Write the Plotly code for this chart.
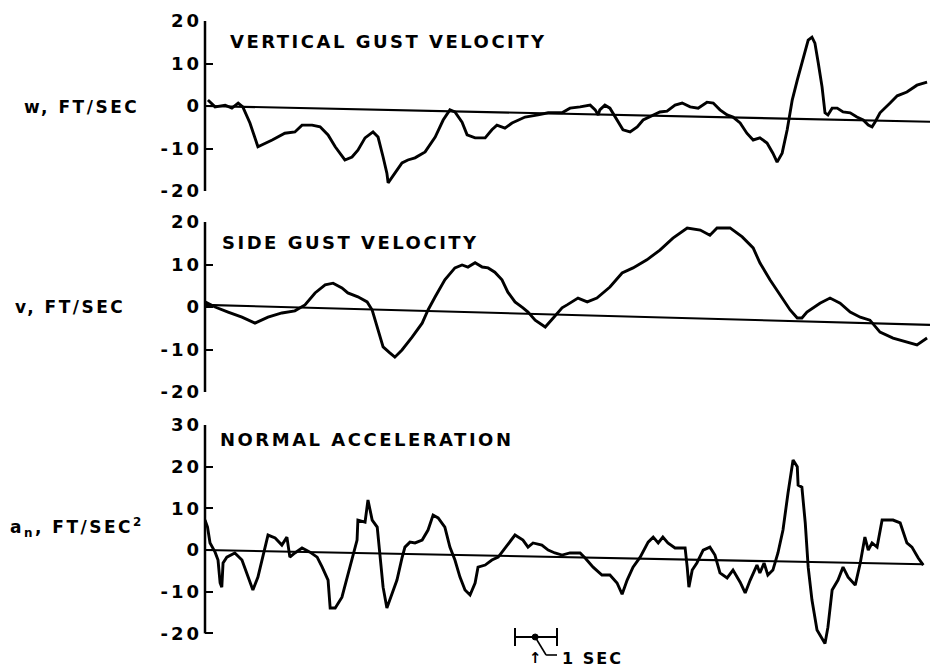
import plotly.graph_objects as go

# ---------------- data (time in seconds, values in panel units) ----------------
T_W = [0.07,0.24,0.48,0.64,0.79,0.90,1.07,1.26,1.60,1.90,2.14,2.31,2.55,2.74,2.93,3.10,3.33,3.50,3.64,3.81,
       4.00,4.12,4.24,4.33,4.36,4.52,4.69,4.83,5.00,5.24,5.48,5.67,5.83,5.95,6.12,6.24,6.43,6.67,6.83,6.95,
       7.14,7.31,7.62,7.93,8.17,8.50,8.69,8.93,9.17,9.29,9.36,9.40,9.52,9.64,9.81,9.95,10.12,10.29,10.43,10.67,
       10.83,11.00,11.19,11.36,11.55,11.74,11.95,12.10,12.26,12.43,12.57,12.74,12.90,13.05,13.21,13.38,13.52,13.62,13.74,13.86,
       13.98,14.10,14.24,14.36,14.45,14.52,14.60,14.69,14.76,14.83,14.93,15.05,15.19,15.36,15.52,15.67,15.79,15.88,15.95,16.07,
       16.31,16.48,16.71,16.95,17.19]
W_GUST = [1.4,-0.2,0.2,-0.5,0.7,-0.2,-4.0,-9.6,-8.0,-6.4,-6.1,-4.5,-4.5,-4.9,-6.8,-9.6,-12.7,-12.0,-10.4,-7.5,
          -6.1,-7.3,-12.0,-15.8,-18.1,-15.8,-13.4,-12.7,-12.2,-10.8,-7.3,-3.3,-0.9,-1.4,-3.8,-6.8,-7.5,-7.5,-5.6,-4.5,
          -5.2,-4.0,-2.6,-2.1,-1.6,-1.6,-0.5,-0.2,0.2,-0.9,-2.1,-0.9,0.2,-0.5,-3.3,-5.6,-6.1,-4.9,-3.3,-2.1,
          -1.4,-1.2,0.2,0.7,-0.2,-0.5,0.9,0.7,-0.9,-2.1,-2.6,-4.0,-6.4,-8.0,-7.5,-8.7,-11.1,-13.2,-11.1,-5.6,
          1.4,6.1,11.5,15.5,16.2,14.8,10.1,4.5,-1.6,-2.1,-0.5,-0.5,-1.4,-1.6,-2.6,-3.3,-4.5,-4.9,-3.8,-1.6,
          0.7,2.4,3.3,4.9,5.6]

T_V = [0.0,0.24,0.55,0.88,1.19,1.50,1.83,2.14,2.38,2.62,2.86,3.05,3.26,3.40,3.64,3.86,3.98,4.10,4.24,4.40,
       4.52,4.69,4.93,5.17,5.31,5.48,5.71,5.95,6.12,6.26,6.43,6.60,6.74,6.90,7.07,7.21,7.38,7.57,7.69,7.86,
       8.10,8.29,8.50,8.62,8.88,9.10,9.33,9.64,9.93,10.19,10.52,10.83,11.14,11.48,11.79,12.02,12.19,12.50,12.79,13.05,
       13.21,13.45,13.69,13.93,14.10,14.21,14.33,14.64,14.88,15.12,15.36,15.60,15.83,16.07,16.38,16.71,16.95,17.19]
V_GUST = [1.2,0.0,-1.2,-2.4,-3.8,-2.4,-1.4,-0.9,0.5,3.3,5.2,5.6,4.5,3.3,2.4,1.2,-0.7,-4.7,-9.4,-10.8,
          -11.8,-10.1,-7.1,-3.8,-0.7,2.4,6.4,9.2,9.9,9.4,10.4,9.4,9.2,8.2,6.4,3.5,1.2,-0.2,-1.2,-3.1,
          -4.7,-2.6,-0.2,0.5,2.1,1.2,2.1,4.7,8.0,9.2,11.1,13.4,16.2,18.6,18.1,16.9,18.6,18.6,16.5,13.9,
          10.4,6.4,2.8,-0.7,-2.6,-2.6,-1.2,0.9,2.1,0.9,-1.2,-2.4,-3.1,-5.9,-7.3,-8.2,-8.9,-7.3]

T_A = [0.0,0.06,0.12,0.24,0.31,0.36,0.40,0.43,0.52,0.71,0.88,1.02,1.14,1.26,1.38,1.50,1.67,1.83,1.95,2.02,
       2.14,2.31,2.50,2.67,2.79,2.93,2.98,3.10,3.26,3.38,3.50,3.62,3.64,3.81,3.88,3.98,4.10,4.17,4.24,4.33,
       4.45,4.57,4.69,4.76,4.88,5.00,5.17,5.31,5.43,5.55,5.71,5.83,5.95,6.07,6.19,6.31,6.43,6.50,6.67,6.83,
       6.98,7.14,7.38,7.57,7.69,7.81,8.02,8.17,8.33,8.50,8.69,8.93,9.05,9.24,9.45,9.64,9.81,9.93,10.05,10.19,
       10.36,10.55,10.67,10.79,10.90,11.02,11.19,11.31,11.43,11.48,11.52,11.60,11.71,11.86,12.02,12.14,12.26,12.43,12.57,12.74,
       12.86,12.98,13.14,13.21,13.31,13.40,13.52,13.64,13.76,13.88,14.00,14.10,14.12,14.21,14.29,14.36,14.45,14.57,14.76,14.83,
       14.93,15.07,15.19,15.31,15.48,15.60,15.71,15.79,15.88,16.00,16.12,16.38,16.55,16.71,16.83,16.98,17.10]
A_NORMAL = [7.2,5.5,1.7,-0.5,-2.4,-7.9,-8.9,-3.1,-1.7,-0.7,-2.4,-6.5,-9.6,-6.5,-1.2,3.6,2.9,1.2,3.1,-1.7,
            -0.7,0.5,-0.5,-1.7,-4.1,-7.2,-13.9,-13.9,-11.3,-6.7,-2.4,2.4,7.2,6.7,12.0,7.2,5.5,-2.4,-8.9,-13.9,
            -10.3,-7.2,-1.9,0.7,1.9,1.7,2.4,4.8,8.4,7.7,5.5,0.7,-2.4,-6.5,-9.6,-10.8,-7.9,-4.1,-3.6,-2.4,
            -1.7,0.5,3.6,2.4,0.7,1.7,1.2,0.0,-0.7,-1.2,-0.7,-0.7,-1.9,-4.1,-6.0,-6.0,-7.9,-10.6,-7.2,-4.1,
            -1.7,1.9,3.1,1.7,3.1,1.7,0.5,0.5,0.5,-4.1,-8.9,-4.8,-3.1,0.0,0.7,-1.2,-5.5,-6.7,-4.8,-7.7,
            -10.3,-7.2,-3.6,-5.5,-3.1,-6.0,-4.8,-0.7,4.8,13.7,21.6,20.0,15.6,15.1,6.5,-4.1,-12.0,-19.2,-22.4,-18.5,
            -9.6,-7.2,-4.1,-6.5,-8.4,-3.1,3.1,0.0,1.7,0.7,7.2,7.2,6.5,1.7,0.7,-1.9,-3.6]

# reference (zero) lines as drawn on the record: start and end values
BASE_T = [0.0, 17.26]
BASE_W = [0.0, -3.7]
BASE_V = [0.5, -4.2]
BASE_T_A = [0.0, 17.10]
BASE_A = [0.0, -3.4]

TICKS_W = [-20, -10, 0, 10, 20]
TICKS_V = [-20, -10, 0, 10, 20]
TICKS_A = [-20, -10, 0, 10, 20, 30]

TITLES = ["VERTICAL GUST VELOCITY", "SIDE GUST VELOCITY", "NORMAL ACCELERATION"]
YLABELS = ["w, FT/SEC", "v, FT/SEC", "a<sub>n</sub>, FT/SEC<sup>2</sup>"]

SCALE_START = 7.38   # seconds
SCALE_LEN = 1.0      # 1 SEC

# ---------------- figure ----------------
FONT = "DejaVu Sans"
H_TOP, H_BOT = 21, 648           # pixel extents of the plotting area
PH = H_BOT - H_TOP


def py(px):
    """pixel row -> paper y"""
    return (H_BOT - px) / PH


def spaced(s, sp):
    return f'<span style="letter-spacing:{sp}px">{s}</span>'


fig = go.Figure()
line = dict(color="black", width=2.9)
base = dict(color="black", width=2.1)

fig.add_trace(go.Scatter(x=BASE_T, y=BASE_W, mode="lines", line=base, xaxis="x", yaxis="y"))
fig.add_trace(go.Scatter(x=T_W, y=W_GUST, mode="lines", line=line, xaxis="x", yaxis="y"))
fig.add_trace(go.Scatter(x=BASE_T, y=BASE_V, mode="lines", line=base, xaxis="x2", yaxis="y2"))
fig.add_trace(go.Scatter(x=T_V, y=V_GUST, mode="lines", line=line, xaxis="x2", yaxis="y2"))
fig.add_trace(go.Scatter(x=BASE_T_A, y=BASE_A, mode="lines", line=base, xaxis="x3", yaxis="y3"))
fig.add_trace(go.Scatter(x=T_A, y=A_NORMAL, mode="lines", line=line, xaxis="x3", yaxis="y3"))

xcommon = dict(range=[0, 17.26], visible=False, domain=[0, 1], automargin=False)


def ycommon(ticks, rng, dom, anchor):
    return dict(range=rng, domain=dom, anchor=anchor, tickvals=ticks,
                ticktext=[spaced(str(t), 3) for t in ticks],
                ticks="inside", ticklen=8, tickwidth=2, tickcolor="black",
                showline=False, showgrid=False, zeroline=False, automargin=False,
                tickfont=dict(family=FONT, size=18, color="black", weight="bold"),
                ticklabelstandoff=2)


fig.update_layout(
    width=930, height=671,
    margin=dict(l=205, r=0, t=H_TOP, b=671 - H_BOT, autoexpand=False),
    paper_bgcolor="white", plot_bgcolor="white", showlegend=False,
    font=dict(family=FONT, color="black"),
    hovermode=False,
    xaxis=dict(**xcommon, anchor="y"),
    xaxis2=dict(**xcommon, anchor="y2"),
    xaxis3=dict(**xcommon, anchor="y3"),
    yaxis=ycommon(TICKS_W, [-20, 20], [py(191), py(21)], "x"),
    yaxis2=ycommon(TICKS_V, [-20, 20], [py(392), py(222)], "x2"),
    yaxis3=ycommon(TICKS_A, [-23.5, 30], [0, py(425)], "x3"),
)

shapes = []
# vertical axis lines spanning first..last tick
for yref, ticks in (("y", TICKS_W), ("y2", TICKS_V), ("y3", TICKS_A)):
    shapes.append(dict(type="line", xref="paper", yref=yref, x0=0, x1=0,
                       y0=ticks[0], y1=ticks[-1], line=dict(color="black", width=2.5)))

# 1-second scale bar
bar_y = py(637)
s0, s1 = SCALE_START, SCALE_START + SCALE_LEN
mid = SCALE_START + SCALE_LEN * 0.48
shapes += [
    dict(type="line", xref="x3", yref="paper", x0=s0, x1=s1, y0=bar_y, y1=bar_y, line=dict(color="black", width=2)),
    dict(type="line", xref="x3", yref="paper", x0=s0, x1=s0, y0=py(628), y1=py(646), line=dict(color="black", width=2)),
    dict(type="line", xref="x3", yref="paper", x0=s1, x1=s1, y0=py(628), y1=py(646), line=dict(color="black", width=2)),
    dict(type="circle", xref="x3", yref="paper", xsizemode="pixel", ysizemode="pixel",
         xanchor=mid, yanchor=bar_y, x0=-3, x1=3, y0=-3, y1=3, fillcolor="black", line=dict(color="black", width=1)),
    dict(type="line", xref="x3", yref="paper", x0=mid, x1=SCALE_START + 0.74 * SCALE_LEN,
         y0=bar_y, y1=py(655), line=dict(color="black", width=1.6)),
    dict(type="line", xref="x3", yref="paper", x0=SCALE_START + 0.74 * SCALE_LEN, x1=s1,
         y0=py(655), y1=py(655), line=dict(color="black", width=1.6)),
]
fig.update_layout(shapes=shapes)

bold = dict(family=FONT, color="black", weight="bold")
ann = []
# panel titles
for txt, x0, yc in zip(TITLES, (0.55, 0.36, 0.31), (42, 243, 439)):
    ann.append(dict(text=spaced(txt, 2.5), x=x0, y=py(yc), xref="x", yref="paper",
                    xanchor="left", yanchor="middle", showarrow=False, font=dict(**bold, size=18)))
# left-hand labels
for txt, xl, yc in zip(YLABELS, (22, 13, 8), (107, 307, 527)):
    ann.append(dict(text=spaced(txt, 2.5), x=(xl - 205) / 725, y=py(yc), xref="paper", yref="paper",
                    xanchor="left", yanchor="middle", showarrow=False, font=dict(**bold, size=17)))
# scale bar labels
ann.append(dict(text="↑", x=mid, y=py(658), xref="x3", yref="paper", xanchor="center", yanchor="middle",
                showarrow=False, font=dict(**bold, size=15)))
ann.append(dict(text=spaced("1 SEC", 2), x=s1 + 0.06, y=py(658), xref="x3", yref="paper",
                xanchor="left", yanchor="middle", showarrow=False, font=dict(**bold, size=16)))
fig.update_layout(annotations=ann)

fig.write_html("out.html", config={"displayModeBar": False, "staticPlot": True},
               post_script="document.body.style.margin='0';document.body.style.overflow='hidden';")
